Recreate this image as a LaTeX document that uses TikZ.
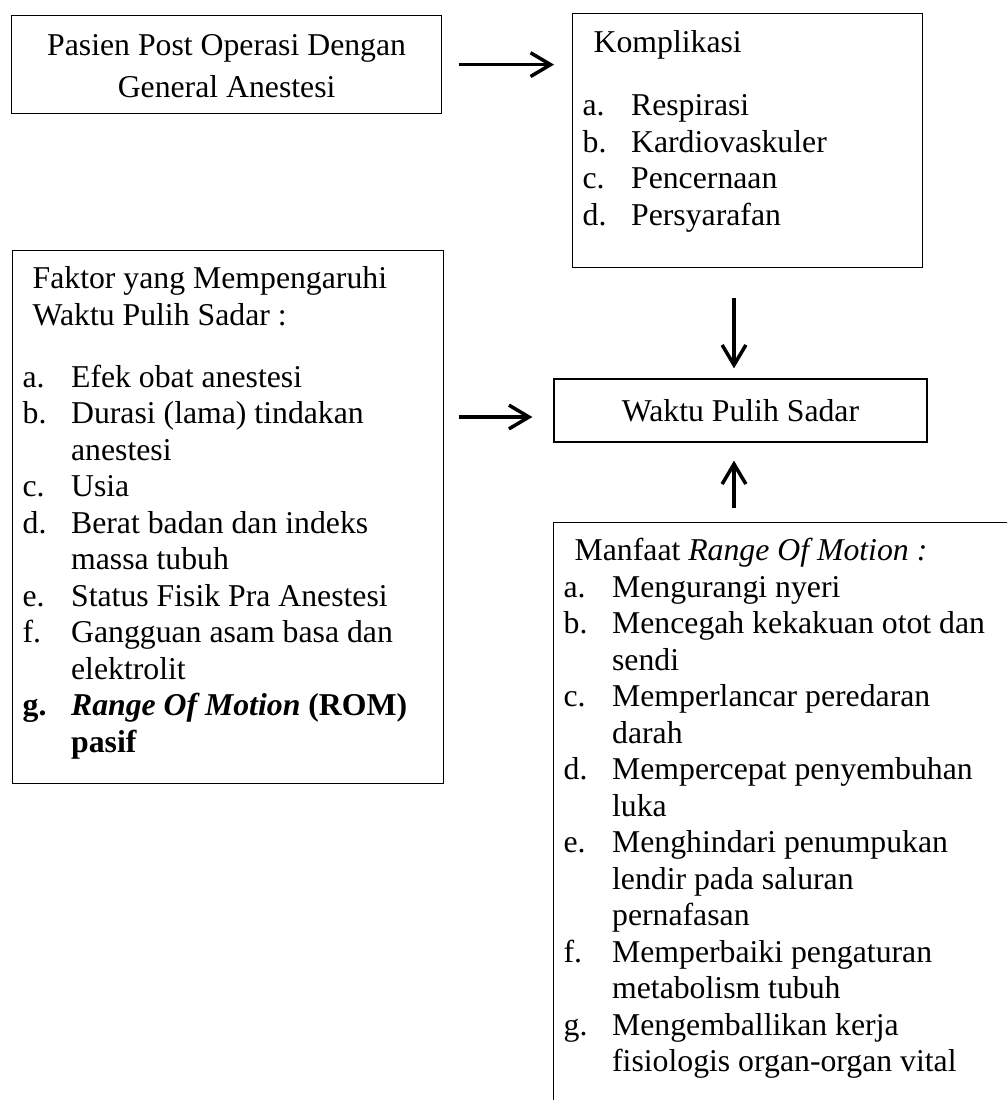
\documentclass[tikz,border=0pt]{standalone}
\usepackage{fontspec}
\setmainfont{Liberation Serif}
\usetikzlibrary{positioning}
\usetikzlibrary{calc}
\usetikzlibrary{arrows.meta}
\tikzset{blok/.style={draw,line width=0.5pt,rectangle,inner sep=0pt,anchor=north west},
flowarrow/.style={line width=1.4pt,-{Straight Barb[length=8pt,width=9.5pt]}}}
\newcommand{\isi}[3]{\begin{minipage}[t][#2][t]{#1}\fontsize{12.7}{14.6}\selectfont
\rightskip=0pt plus 1fil\leftskip=4pt\parindent=0pt #3\end{minipage}}
\newcommand{\itm}[2]{\par\hangindent=19.4pt\hangafter=1\noindent\makebox[19.4pt][l]{#1}#2}

\begin{document}
\begin{tikzpicture}[x=0.4pt,y=-0.4pt]
%[scale=0.4, every node/.style={scale=0.4}]
\useasboundingbox (0,0) rectangle (1007,1100);
\clip (0,0) rectangle (1007,1100);

\node (pasien) at (11,15) [blok] {\isi{172pt}{39.2pt}{\centering\fontsize{12.7}{16.8}\selectfont
\rule{0pt}{16pt}Pasien Post Operasi Dengan\\General Anestesi}};
\node (komp) at (572,13) [blok] {\isi{140pt}{101.6pt}{\rule{0pt}{15.6pt}\hspace*{4.4pt}Komplikasi\par\vspace{10.6pt}
\itm{a.}{Respirasi}
\itm{b.}{Kardiovaskuler}
\itm{c.}{Pencernaan}
\itm{d.}{Persyarafan}}};
\node (faktor) at (12,250) [blok] {\isi{172.4pt}{213.2pt}{\rule{0pt}{15.2pt}\hspace*{4pt}Faktor yang Mempengaruhi\newline
\hspace*{4pt}Waktu Pulih Sadar :\par\vspace{10.2pt}
\itm{a.}{Efek obat anestesi}
\itm{b.}{Durasi (lama) tindakan\newline anestesi}
\itm{c.}{Usia}
\itm{d.}{Berat badan dan indeks\newline massa tubuh}
\itm{e.}{Status Fisik Pra Anestesi}
\itm{f.}{Gangguan asam basa dan\newline elektrolit}
\itm{\textbf{g.}}{\textbf{\textit{Range Of Motion} (ROM)\newline pasif}}}};
\node (waktu) at (740.5,410.5) [blok,anchor=center,minimum width=149.2pt,minimum height=25.2pt,
font=\fontsize{12.7}{14.6}\selectfont] {Waktu Pulih Sadar};
\node (manfaat) at (553,522) [blok] {\isi{183.6pt}{235.2pt}{\rule{0pt}{15.2pt}\hspace*{4.4pt}Manfaat \textit{Range Of Motion :}
\itm{a.}{Mengurangi nyeri}
\itm{b.}{Mencegah kekakuan otot dan\newline sendi}
\itm{c.}{Memperlancar peredaran\newline darah}
\itm{d.}{Mempercepat penyembuhan\newline luka}
\itm{e.}{Menghindari penumpukan\newline lendir pada saluran\newline pernafasan}
\itm{f.}{Memperbaiki pengaturan\newline metabolism tubuh}
\itm{g.}{Mengemballikan kerja\newline fisiologis organ-organ vital}}};

\coordinate (masuk) at ($(waktu.west)+(0,6.5)$);
\coordinate (tengah) at ($(waktu.north)+(-6.5,0)$);
\draw[flowarrow, shorten <=6.8pt, shorten >=7.2pt] (pasien.east) -- (pasien.east -| komp.west);
\draw[flowarrow, shorten <=6pt, shorten >=8.4pt] (masuk -| faktor.east) -- (masuk);
\draw[flowarrow, shorten <=12pt, shorten >=4pt] (tengah |- komp.south) -- (tengah);
\draw[flowarrow, shorten <=5.6pt, shorten >=7.2pt] (tengah |- manfaat.north) -- (tengah |- waktu.south);
\end{tikzpicture}
\end{document}
